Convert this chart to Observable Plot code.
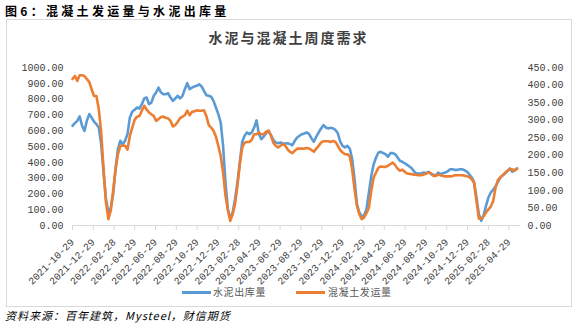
<!DOCTYPE html>
<html><head><meta charset="utf-8">
<script src="https://cdn.jsdelivr.net/npm/d3@7"></script>
<script src="https://cdn.jsdelivr.net/npm/@observablehq/plot@0.6"></script>
<style>
body{margin:0;width:577px;height:324px;background:#fff;position:relative;overflow:hidden;font-family:"Noto Sans CJK SC","Noto Sans",sans-serif;}
#fig{position:absolute;left:5px;top:5px;font-size:12px;line-height:1;font-weight:bold;letter-spacing:3.3px;color:#000;white-space:nowrap;}
#box{position:absolute;left:6px;top:19px;width:566px;height:288px;border:1px solid #d9d9d9;box-sizing:border-box;}
#title{position:absolute;left:0;width:577px;top:30px;text-align:center;font-size:14px;line-height:1;font-weight:bold;letter-spacing:2px;color:#404040;}
#chart{position:absolute;left:0;top:0;}
.lg{position:absolute;top:287px;font-size:10px;line-height:1;color:#595959;white-space:nowrap;letter-spacing:0.6px;}
.sw{position:absolute;top:290.5px;height:3px;width:29px;}
#source{position:absolute;left:5px;top:310px;font-size:11px;line-height:1;font-style:italic;letter-spacing:1px;color:#000;white-space:nowrap;}
</style></head>
<body>
<div id="box"></div>
<div id="fig">图6：混凝土发运量与水泥出库量</div>
<div id="title">水泥与混凝土周度需求</div>
<div id="chart"></div>
<div class="sw" style="left:182px;background:#5B9BD5"></div>
<div class="lg" style="left:213px">水泥出库量</div>
<div class="sw" style="left:296px;background:#ED7D31"></div>
<div class="lg" style="left:328px">混凝土发运量</div>
<div id="source">资料来源：百年建筑，Mysteel，财信期货</div>
<script>
const dates = [
"2021-10-29","2021-11-05","2021-11-12","2021-11-19","2021-11-26","2021-12-03","2021-12-10","2021-12-17","2021-12-24","2021-12-31",
"2022-01-07","2022-01-14","2022-01-21","2022-01-28","2022-02-04","2022-02-11","2022-02-18","2022-02-25","2022-03-04","2022-03-11",
"2022-03-18","2022-03-25","2022-04-01","2022-04-08","2022-04-15","2022-04-22","2022-04-29","2022-05-06","2022-05-13","2022-05-20",
"2022-05-27","2022-06-03","2022-06-10","2022-06-17","2022-06-24","2022-07-01","2022-07-08","2022-07-15","2022-07-22","2022-07-29",
"2022-08-05","2022-08-12","2022-08-19","2022-08-26","2022-09-02","2022-09-09","2022-09-16","2022-09-23","2022-09-30","2022-10-07",
"2022-10-14","2022-10-21","2022-10-28","2022-11-04","2022-11-11","2022-11-18","2022-11-25","2022-12-02","2022-12-09","2022-12-16",
"2022-12-23","2022-12-30","2023-01-06","2023-01-13","2023-01-20","2023-01-27","2023-02-03","2023-02-10","2023-02-17","2023-02-24",
"2023-03-03","2023-03-10","2023-03-17","2023-03-24","2023-03-31","2023-04-07","2023-04-14","2023-04-21","2023-04-28","2023-05-05",
"2023-05-12","2023-05-19","2023-05-26","2023-06-02","2023-06-09","2023-06-16","2023-06-23","2023-06-30","2023-07-07","2023-07-14",
"2023-07-21","2023-07-28","2023-08-04","2023-08-11","2023-08-18","2023-08-25","2023-09-01","2023-09-08","2023-09-15","2023-09-22",
"2023-09-29","2023-10-06","2023-10-13","2023-10-20","2023-10-27","2023-11-03","2023-11-10","2023-11-17","2023-11-24","2023-12-01",
"2023-12-08","2023-12-15","2023-12-22","2023-12-29","2024-01-05","2024-01-12","2024-01-19","2024-01-26","2024-02-02","2024-02-09",
"2024-02-16","2024-02-23","2024-03-01","2024-03-08","2024-03-15","2024-03-22","2024-03-29","2024-04-05","2024-04-12","2024-04-19",
"2024-04-26","2024-05-03","2024-05-10","2024-05-17","2024-05-24","2024-05-31","2024-06-07","2024-06-14","2024-06-21","2024-06-28",
"2024-07-05","2024-07-12","2024-07-19","2024-07-26","2024-08-02","2024-08-09","2024-08-16","2024-08-23","2024-08-30","2024-09-06",
"2024-09-13","2024-09-20","2024-09-27","2024-10-04","2024-10-11","2024-10-18","2024-10-25","2024-11-01","2024-11-08","2024-11-15",
"2024-11-22","2024-11-29","2024-12-06","2024-12-13","2024-12-20","2024-12-27","2025-01-03","2025-01-10","2025-01-17","2025-01-24",
"2025-01-31","2025-02-07","2025-02-14","2025-02-21","2025-02-28","2025-03-07","2025-03-14","2025-03-21","2025-03-28","2025-04-04",
"2025-04-11","2025-04-18","2025-04-25","2025-05-02","2025-05-09","2025-05-16","2025-05-23"];

// 水泥出库量 (left axis)
const cementOut = [
631,648,662,690,631,599,662,705,683,658,
641,620,515,335,166,85,110,198,356,483,
536,515,536,578,683,720,732,747,740,768,
804,810,768,778,821,842,873,842,831,831,
837,810,789,804,821,804,821,863,901,863,
873,880,884,894,880,852,825,821,815,789,
747,705,652,504,272,103,44,82,166,272,
399,530,568,589,578,589,620,665,580,546,
563,584,599,572,542,525,521,525,519,519,
521,515,508,536,557,568,578,582,589,578,
551,530,563,589,614,635,620,614,618,614,
605,584,530,504,494,504,487,420,293,135,
82,57,65,103,209,314,388,430,462,466,
458,451,435,458,458,451,430,409,403,394,
384,373,361,340,329,329,331,335,331,340,
325,321,318,335,325,331,335,344,356,356,
352,352,356,356,350,340,325,304,276,177,
72,30,65,125,177,209,226,247,276,304,
318,329,346,361,340,352,361];

// 混凝土发运量 (right axis)
const concreteShip = [
417,426,412,428,428,426,417,409,388,369,
369,331,265,160,66,18,42,99,160,203,
227,227,227,216,255,279,301,310,312,327,
341,330,322,317,312,298,303,309,310,307,
305,298,282,286,295,306,310,314,327,314,
324,325,328,327,327,328,312,286,279,270,
253,227,198,151,85,44,13,32,61,113,
175,222,236,238,238,244,260,260,265,260,
260,267,270,257,236,227,222,227,232,227,
217,210,206,213,219,219,219,219,221,219,
215,210,219,227,236,240,240,240,238,241,
238,227,215,208,203,203,197,160,103,56,
32,18,23,35,51,99,137,151,165,168,
167,167,170,175,179,172,162,156,159,153,
148,147,146,145,144,143,143,145,148,151,
149,141,141,145,143,141,140,140,140,141,
143,143,143,143,142,140,138,132,121,70,
20,20,26,37,46,54,70,108,130,137,
143,151,156,160,160,156,162];

const tickLabels = ["2021-10-29","2021-12-29","2022-02-28","2022-04-29","2022-06-29","2022-08-29","2022-10-29","2022-12-29","2023-02-28","2023-04-29","2023-06-29","2023-08-29","2023-10-29","2023-12-29","2024-02-29","2024-04-29","2024-06-29","2024-08-29","2024-10-29","2024-12-29","2025-02-28","2025-04-29"];
const leftTicks = [0,100,200,300,400,500,600,700,800,900,1000];
const rightTicks = [0,50,100,150,200,250,300,350,400,450];

const leftMax = 1000, rightMax = 450;
const k = leftMax / rightMax;
const parse = d3.utcParse("%Y-%m-%d");
const cement = dates.map((d, i) => ({date: parse(d), v: cementOut[i]}));
const concrete = dates.map((d, i) => ({date: parse(d), v: concreteShip[i] * k}));
const tickDates = tickLabels.map(parse);

const chart = Plot.plot({
  width: 577, height: 290,
  marginLeft: 72, marginRight: 57, marginTop: 67, marginBottom: 65,
  x: {type: "utc", domain: [parse("2021-10-29"), parse("2025-06-02")]},
  y: {domain: [0, leftMax]},
  style: {fontFamily: "'Liberation Mono', 'DejaVu Sans Mono', monospace", fontSize: "10px", background: "transparent", color: "#404040"},
  marks: [
    Plot.ruleY([0], {stroke: "#d9d9d9", strokeWidth: 1}),
    Plot.axisX({ticks: tickDates, tickFormat: (d, i) => tickLabels[i], tickRotate: -45, tickSize: 5, tickPadding: 10, stroke: "#d9d9d9", fill: "#404040", label: null}),
    Plot.axisY({anchor: "left", ticks: leftTicks, tickFormat: d => d.toFixed(2), tickSize: 0, tickPadding: 9, fill: "#404040", label: null}),
    Plot.axisY({anchor: "right", ticks: rightTicks.map(v => v * k), tickFormat: d => (d / k).toFixed(2), tickSize: 0, tickPadding: 7, fill: "#404040", label: null}),
    Plot.lineY(cement, {x: "date", y: "v", stroke: "#5B9BD5", strokeWidth: 2.6}),
    Plot.lineY(concrete, {x: "date", y: "v", stroke: "#ED7D31", strokeWidth: 2.6})
  ]
});
document.getElementById("chart").appendChild(chart);
</script>
</body></html>
